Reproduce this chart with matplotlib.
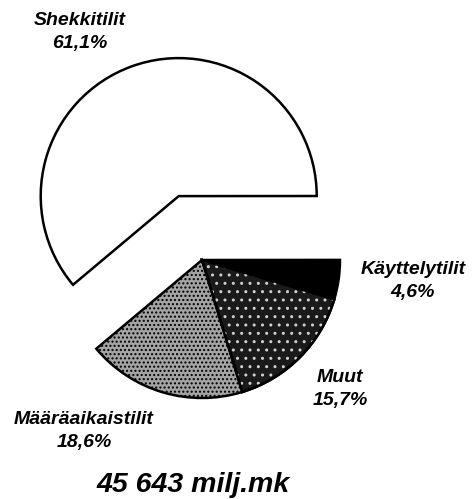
import matplotlib.pyplot as plt
from matplotlib.patches import Wedge

# Talletukset tilityypeittäin (%)
labels = ["Shekkitilit", "Käyttelytilit", "Muut", "Määräaikaistilit"]
shares = [61.1, 4.6, 15.7, 18.6]
share_text = ["61,1%", "4,6%", "15,7%", "18,6%"]
total_text = "45 643 milj.mk"

W, H = 472, 499
fig = plt.figure(figsize=(W / 100, H / 100), dpi=100)
ax = fig.add_axes([0, 0, 1, 1])
ax.set_xlim(0, W)
ax.set_ylim(0, H)
ax.set_aspect("equal")
ax.axis("off")

colors = ["white", "black", "#1a1a1a", "#a4a4a4"]
wedges, _ = ax.pie(shares, center=(202, H - 260), radius=138,
                   startangle=220, counterclock=False,
                   explode=[68, 0, 0, 0], colors=colors,
                   wedgeprops=dict(edgecolor="black", linewidth=1.8))
ax.set_xlim(0, W)
ax.set_ylim(0, H)

# pisteraster: harmaa sektori mustin pistein, tumma sektori vaalein pistein
wedges[3].set_hatch("....")
w = wedges[2]
dots = Wedge(w.center, w.r, w.theta1, w.theta2, facecolor="none",
             edgecolor="#d0d0d0", linewidth=0, hatch="..", zorder=w.get_zorder())
ax.add_patch(dots)
outline = Wedge(w.center, w.r, w.theta1, w.theta2, facecolor="none",
                edgecolor="black", linewidth=1.8, zorder=w.get_zorder() + 0.1)
ax.add_patch(outline)

font = dict(family=["Liberation Sans", "DejaVu Sans"], fontweight="bold",
            fontstyle="italic", ha="center", va="center")
label_pos = [(80, 20), (413, 270), (340, 377), (84, 420)]
for lab, pct, (px, py) in zip(labels, share_text, label_pos):
    ax.text(px, H - py, lab, fontsize=14, **font)
    ax.text(px, H - py - 23, pct, fontsize=14, **font)

ax.text(193, H - 485, total_text, fontsize=20.5, **font)

fig.savefig("out.png", dpi=100)
